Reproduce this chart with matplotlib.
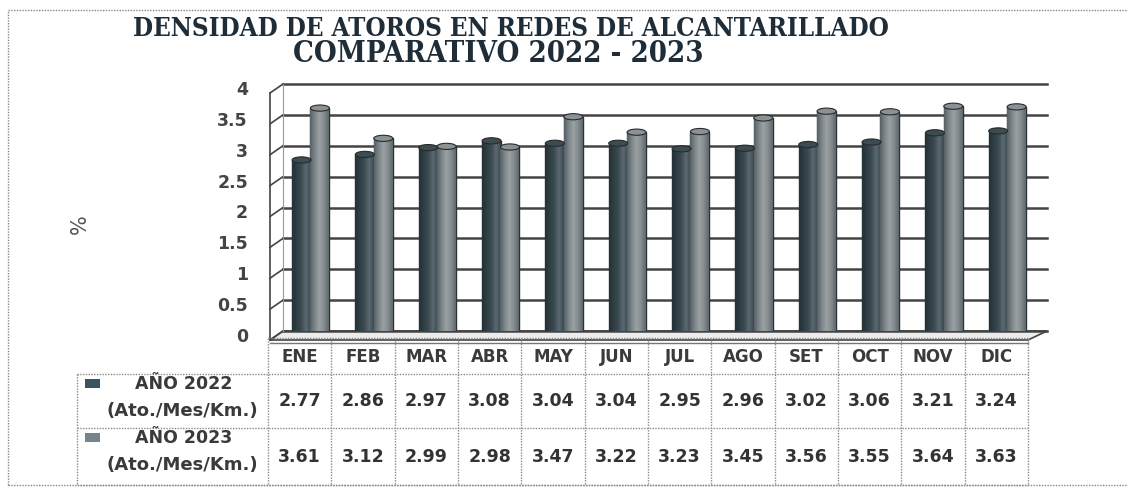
import numpy as np
import matplotlib
matplotlib.use("Agg")
import matplotlib.pyplot as plt
from matplotlib import transforms
from matplotlib.colors import LinearSegmentedColormap
from matplotlib.patches import Rectangle, Ellipse, Polygon

# data
months = ['ENE', 'FEB', 'MAR', 'ABR', 'MAY', 'JUN', 'JUL', 'AGO', 'SET', 'OCT', 'NOV', 'DIC']
y2022 = [2.77, 2.86, 2.97, 3.08, 3.04, 3.04, 2.95, 2.96, 3.02, 3.06, 3.21, 3.24]
y2023 = [3.61, 3.12, 2.99, 2.98, 3.47, 3.22, 3.23, 3.45, 3.56, 3.55, 3.64, 3.63]
series_names = ['AÑO 2022', 'AÑO 2023']
unit_label = '(Ato./Mes/Km.)'
yticks = [0, 0.5, 1, 1.5, 2, 2.5, 3, 3.5, 4]
title1 = 'DENSIDAD DE ATOROS EN REDES DE ALCANTARILLADO'
title2 = 'COMPARATIVO 2022 - 2023'

W, H = 1128, 488
fig = plt.figure(figsize=(W / 100, H / 100), dpi=100)
fig.patch.set_facecolor('white')

# pixel overlay (y down) for frame, walls and table
deco = fig.add_axes([0, 0, 1, 1])
deco.set_xlim(0, W)
deco.set_ylim(H, 0)
deco.axis('off')

L, R = 268, 1028      # table columns / front of the chart
B0, T4 = 331, 84      # back wall: y of 0 and of 4
ax = fig.add_axes([L / W, (H - B0) / H, (R - L) / W, (B0 - T4) / H])
ax.patch.set_alpha(0)
ax.axis('off')
ax.set_xlim(-0.5, 11.5)
ax.set_ylim(0, 4)


def py(v):
    return H - ax.transData.transform((0, v))[1]


grid_col = '#444444'
txt_col = '#3a3a3a'
dot = (0, (1, 1))

# outer frame
deco.plot([8, 8, W], [485, 10, 10], color='#888888', lw=1, ls=dot)
deco.plot([8, W], [485, 485], color='#888888', lw=1, ls=dot)

# title
deco.text(511, 28, title1, ha='center', va='center', fontsize=18.5, fontweight='heavy',
          family='DejaVu Serif', fontstretch='condensed', color='#1f2d38')
deco.text(498, 53, title2, ha='center', va='center', fontsize=21, fontweight='heavy',
          family='DejaVu Serif', fontstretch='condensed', color='#1f2d38')

# walls and gridlines
bx0, bx1 = 283, 1047
fx = 270
depth = 9
floor = Polygon([(fx, py(0) + depth), (R, py(0) + depth), (bx1, py(0)), (bx0, py(0))],
                closed=True, facecolor='#ececec', edgecolor=grid_col, lw=1.2)
deco.add_patch(floor)
deco.plot([fx, R], [py(0) + depth + 3, py(0) + depth + 3], color='#777777', lw=1)
for v in yticks:
    yb = py(v)
    deco.plot([bx0, bx1], [yb, yb], color=grid_col, lw=1.8)
    deco.plot([fx, bx0], [yb + depth, yb], color=grid_col, lw=1.2)
    deco.text(248, yb + 6, f'{v:g}', ha='right', va='center', fontsize=12.5,
              fontweight='bold', color='#444444')
deco.plot([fx, fx], [py(4) + depth, py(0) + depth], color=grid_col, lw=1.2)
deco.plot([bx0, bx0], [py(4), py(0)], color='#999999', lw=0.8)

deco.text(80, 224, '%', rotation=90, ha='center', va='center', fontsize=15, color='#555555')

# cylinder bars
cmap_dark = LinearSegmentedColormap.from_list('d', ['#253238', '#2f3e44', '#3c4c52', '#5a6a70', '#3a4a50'])
cmap_light = LinearSegmentedColormap.from_list('l', ['#566065', '#7d8689', '#9aa1a3', '#848c8f', '#5e676b'])
x = np.arange(len(months))
bw = 0.30
bars_a = ax.bar(x + 0.03, y2022, bw, color='#3a4a50', edgecolor='#222a2e', lw=1, zorder=2)
bars_b = ax.bar(x + 0.32, y2023, bw, color='#7d8689', edgecolor='#2c3336', lw=1, zorder=2)
grad = np.linspace(0, 1, 64).reshape(1, -1)
for bars, cm, cap_col in [(bars_a, cmap_dark, '#3c4c52'), (bars_b, cmap_light, '#8a9295')]:
    for b in bars:
        x0, w, h = b.get_x(), b.get_width(), b.get_height()
        im = ax.imshow(grad, extent=(x0, x0 + w, 0, h), aspect='auto', cmap=cm,
                       origin='lower', zorder=3, interpolation='bilinear')
        im.set_clip_path(b)
        ax.add_patch(Ellipse((x0 + w / 2, h), w, 0.1, facecolor=cap_col,
                             edgecolor='#2a2a2a', lw=0.8, zorder=4))
ax.set_xlim(-0.5, 11.5)
ax.set_ylim(0, 4)

# data table
tb = transforms.blended_transform_factory(ax.transData, deco.transData)
y_head, y_r1, y_r2, y_bot = 338, 374, 428, 485
line_kw = dict(color='#8a8a8a', lw=1, ls=dot, clip_on=False)
for i in range(len(months) + 1):
    ax.plot([i - 0.5, i - 0.5], [y_head, y_bot], transform=tb, **line_kw)
ax.plot([-0.5, 11.5], [y_head, y_head], transform=tb, **line_kw)
for yy in [y_r1, y_r2, y_bot]:
    deco.plot([77, R], [yy, yy], **line_kw)
deco.plot([77, 77], [y_r1, y_bot], **line_kw)

for i, m in enumerate(months):
    ax.text(i, (y_head + y_r1) / 2 + 1, m, transform=tb, ha='center', va='center',
            fontsize=12, fontweight='bold', color=txt_col, clip_on=False)
    ax.text(i, (y_r1 + y_r2) / 2, f'{y2022[i]:.2f}', transform=tb, ha='center',
            va='center', fontsize=12.5, fontweight='bold', color='#333333', clip_on=False)
    ax.text(i, (y_r2 + y_bot) / 2, f'{y2023[i]:.2f}', transform=tb, ha='center',
            va='center', fontsize=12.5, fontweight='bold', color='#333333', clip_on=False)

for (y_top, name, col) in [(y_r1, series_names[0], '#3d5360'), (y_r2, series_names[1], '#75838a')]:
    deco.add_patch(Rectangle((85, y_top + 5), 15, 9, facecolor=col, edgecolor='none'))
    deco.text(184, y_top + 10, name, ha='center', va='center', fontsize=12.5,
              fontweight='bold', color=txt_col)
    deco.text(182, y_top + 37, unit_label, ha='center', va='center', fontsize=13,
              fontweight='bold', color=txt_col)

fig.savefig('out.png', dpi=100)
